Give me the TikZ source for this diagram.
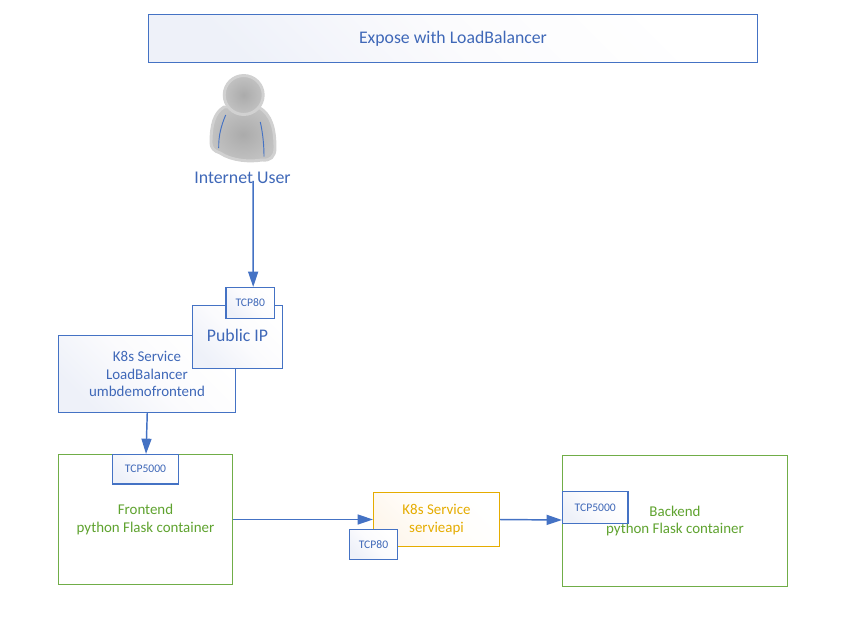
\documentclass[tikz,border=0pt]{standalone}
\usepackage{fontspec}
\setmainfont{Carlito}
\usetikzlibrary{arrows.meta}

\definecolor{azblue}{HTML}{4472C4}
\definecolor{aztext}{HTML}{3F68B8}
\definecolor{azpale}{HTML}{EEF1F9}
\definecolor{azmid}{HTML}{FBFBFD}
\definecolor{azgreen}{HTML}{70AD47}
\definecolor{azgreentext}{HTML}{5FA32F}
\definecolor{azorange}{HTML}{E5AC00}
\definecolor{azpeach}{HTML}{FEF6EC}
\definecolor{azpeachmid}{HTML}{FFFDFA}

\tikzset{
  sized/.style 2 args={minimum width=#1*0.75pt, minimum height=#2*0.75pt, inner sep=0pt},
  bluebox/.style={draw=azblue, line width=0.8pt, left color=azpale, right color=white, middle color=azmid,
    shading angle=135, text=aztext, align=center, font=\fontsize{13.3}{16}\selectfont},
  portbox/.style={bluebox, font=\fontsize{8.7}{10}\selectfont},
  greenbox/.style={draw=azgreen, line width=0.8pt, fill=white, text=azgreentext, align=center,
    font=\fontsize{11.2}{13.4}\selectfont},
  orangebox/.style={draw=azorange, line width=0.8pt, left color=azpeach, right color=white, middle color=azpeachmid,
    shading angle=135, text=azorange, align=center, font=\fontsize{11.2}{13.4}\selectfont},
  flow/.style={draw=azblue, line width=1.1pt, -{Triangle[length=11.5pt, width=7.5pt]}},
  persongray/.style={draw=black!18, line width=2.2pt, inner color=black!33, outer color=black!24},
}

\begin{document}
\begin{tikzpicture}[x=0.75pt, y=-0.75pt]

\useasboundingbox (0,0) rectangle (860,640);

\node[bluebox, sized={609}{48}] (title) at (453,38.5) {Expose with LoadBalancer};

% person
\draw[persongray, line join=round] (224,107) .. controls (214,113) and (211,125) .. (211,143)
  .. controls (211,148) and (214,151) .. (220,153)
  .. controls (232,161) and (250,162) .. (262,160)
  .. controls (270,161) and (275,157) .. (275,148)
  .. controls (275,130) and (272,114) .. (258,107) -- cycle;
\draw[azblue, line width=0.7pt] (225.7,115) .. controls (221,126) and (218.5,136) .. (218.7,148);
\draw[azblue, line width=0.7pt] (260.3,122) .. controls (263,134) and (264,146) .. (264,156.7);
\draw[persongray] (243.7,95) circle (19.5);

\node[text=aztext, inner sep=0pt, font=\fontsize{13.4}{15}\selectfont] (userlabel) at (242.5,177.5) {Internet User};

\node[bluebox, sized={177}{77}, font=\fontsize{11.2}{13.2}\selectfont] (lbservice) at (147,374) {K8s Service\\LoadBalancer\\umbdemofrontend};
\node[bluebox, sized={90}{63}] (publicip) at (237.5,337) {\raisebox{2.3pt}{Public IP}};
\node[portbox, sized={48.5}{31}] (tcptop) at (250.25,303) {TCP80};

\node[greenbox, sized={174}{130}] (frontend) at (145.5,519.5) {Frontend\\python Flask container};
\node[portbox, sized={66}{29.5}] (tcpfront) at (145.5,469.25) {TCP5000};

\node[orangebox, sized={126}{54}] (apiservice) at (436.5,519.5) {K8s Service\\servieapi};
\node[portbox, sized={48}{30}] (tcpapi) at (373.5,544.5) {TCP80};

\node[greenbox, sized={225}{131}] (backend) at (675,521) {Backend\\python Flask container};
\node[portbox, sized={65.5}{32}] (tcpback) at (595.25,507.5) {TCP5000};

\draw[flow] ([xshift=7.9pt, yshift=2pt]userlabel.south) -- ([xshift=2.2pt]tcptop.north);
\draw[flow] ([xshift=0.2pt]lbservice.south) -- ([xshift=0.4pt]frontend.north);
\draw[flow] (frontend.east) -- (apiservice.west);
\draw[flow] (apiservice.east) -- ([yshift=0.75pt]backend.west);

\end{tikzpicture}
\end{document}
